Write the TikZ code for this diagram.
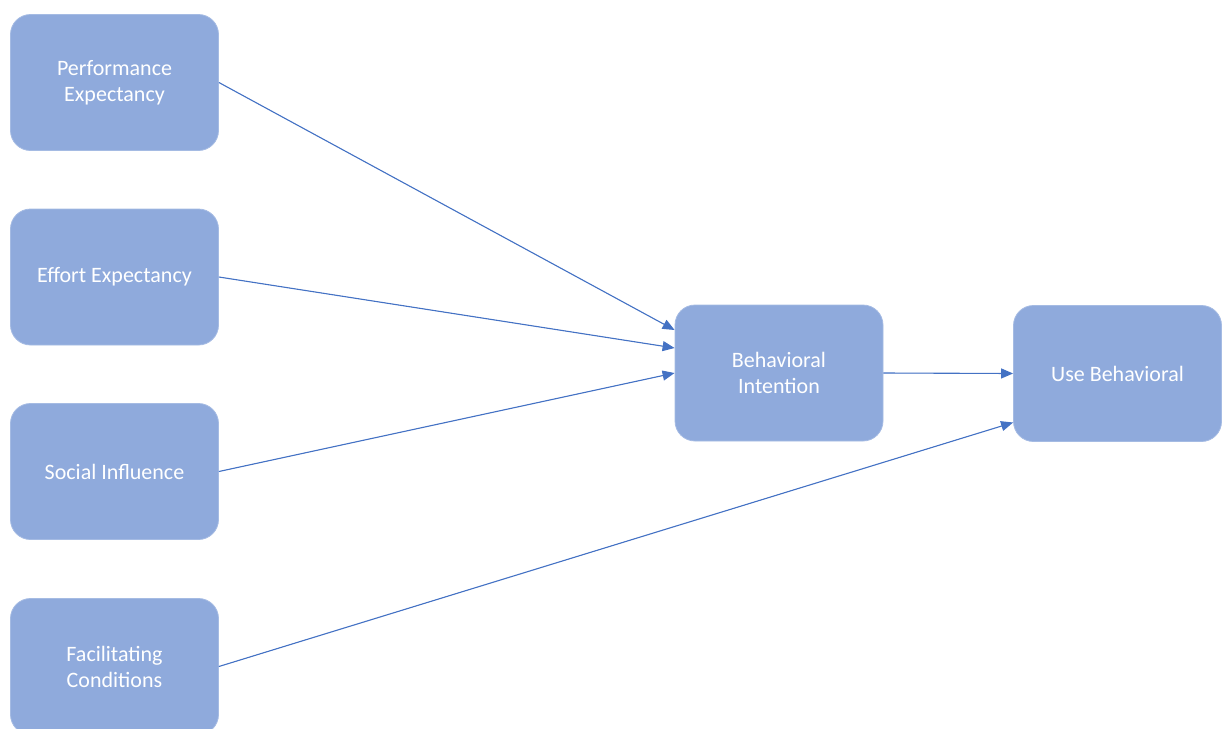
\documentclass[tikz,border=0pt]{standalone}
\usepackage{fontspec}
\setmainfont{Carlito}
\usepackage{xcolor}
\usepackage{tikz}
\usetikzlibrary{arrows.meta}

\definecolor{boxblue}{HTML}{8FAADC}
\definecolor{linkblue}{HTML}{4472C4}

\tikzset{
  factor/.style={rounded corners=10pt, fill=boxblue, draw=boxblue!80!white, line width=0.4pt,
    minimum width=104pt, minimum height=68pt, inner sep=0pt, align=center,
    text=white, font=\fontsize{11}{13}\selectfont},
  link/.style={-{Triangle[length=6pt,width=5pt]}, draw=linkblue, fill=linkblue, line width=0.55pt}
}

\begin{document}
\begin{tikzpicture}[x=0.5pt, y=-0.5pt]
  \useasboundingbox (0,0) rectangle (1223,729);
  \node[factor] (Perf) at (114.5,82.5) {Performance\\Expectancy};  % Predictors
  \node[factor] (Effort) at (114.5,277) {Effort Expectancy};
  \node[factor] (Social) at (114.5,471.5) {Social Influence};
  \node[factor] (Facil) at (114.5,666.5) {Facilitating\\Conditions};
  \node[factor] (Intent) at (779,373) {Behavioral\\Intention};  % Intention
  \node[factor] (Use) at (1117.5,373.5) {Use Behavioral};  % Outcome
  \draw[link] (Perf.east) -- ([yshift=21.5pt]Intent.west);  % Connect predictors
  \draw[link] (Effort.east) -- ([yshift=12.5pt]Intent.west);
  \draw[link] (Social.east) -- (Intent.west);
  \draw[link] (Intent.east) -- (Use.west);
  \draw[link] (Facil.east) -- ([yshift=-24.5pt]Use.west);
\end{tikzpicture}
\end{document}
